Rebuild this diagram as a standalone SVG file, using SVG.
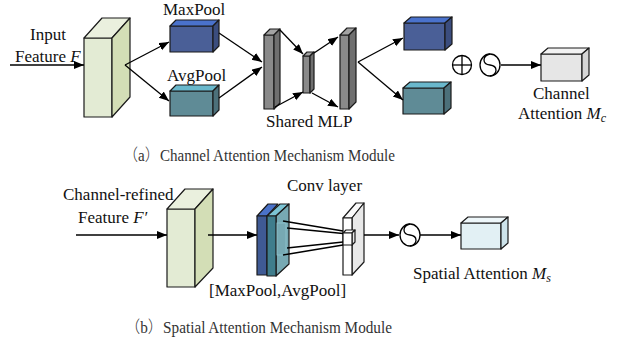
<svg xmlns="http://www.w3.org/2000/svg" width="623" height="340" viewBox="0 0 623 340">
<defs>
<marker id="ah" markerUnits="userSpaceOnUse" markerWidth="11" markerHeight="9" refX="10" refY="4" orient="auto">
<path d="M0,0 L10,4 L0,8 z" fill="#000"/>
</marker>
<style>
.t{font-family:"Liberation Serif","Times New Roman",serif;font-size:17px;fill:#111}
.cap{font-family:"Liberation Serif","Times New Roman",serif;font-size:16.5px;fill:#333}
.fw{font-family:"Noto Sans CJK SC",sans-serif;font-weight:300}
.i{font-style:italic}
.s{stroke:#1a1a1a;stroke-width:1.2;stroke-linejoin:round}
.c{stroke:#000;stroke-width:1.3;fill:none}
.a{stroke:#000;stroke-width:1.3;fill:none;marker-end:url(#ah)}
.gf{fill:#e3ebd4}.gt{fill:#eaf0de}.gs{fill:#d3deb6}
.bf{fill:#4a5f97}.bt{fill:#4a72cc}.bs{fill:#3b4d7e}
.tf{fill:#5f8b96}.tt{fill:#6ab8cc}.ts{fill:#4c707a}
.mf{fill:#8a8a8a}.mt{fill:#a3a3a3}.ms{fill:#6f6f6f}
.wf{fill:#e6e6e6}.wt{fill:#f2f2f2}.ws{fill:#d6d6d6}
.lf{fill:#e2f0f4}.lt{fill:#eef7fa}.ls{fill:#cde3ea}
</style>
</defs>
<rect width="623" height="340" fill="#fff"/>

<!-- (a) Channel attention -->
<g id="label-input">
<text class="t" x="30" y="40">Input</text>
<text class="t" x="15" y="62">Feature <tspan class="i">F</tspan></text>
</g>
<g id="node-input-feature">
<rect class="s gf" x="84" y="38" width="28" height="79"/>
<polygon class="s gt" points="84,38 102,18 130,18 112,38"/>
<polygon class="s gs" points="112,38 130,18 130,97 112,117"/>
</g>
<g id="node-maxpool">
<rect class="s bf" x="170" y="26" width="43" height="26"/>
<polygon class="s bt" points="170,26 176,20 219,20 213,26"/>
<polygon class="s bs" points="213,26 219,20 219,46 213,52"/>
<text class="t" x="163" y="15">MaxPool</text>
</g>
<g id="node-avgpool">
<rect class="s tf" x="170" y="91" width="43" height="25"/>
<polygon class="s tt" points="170,91 176,85 219,85 213,91"/>
<polygon class="s ts" points="213,91 219,85 219,110 213,116"/>
<text class="t" x="167" y="81">AvgPool</text>
</g>
<g id="node-mlp">
<rect class="s mf" x="264" y="35" width="10" height="74"/>
<polygon class="s mt" points="264,35 270,29 280,29 274,35"/>
<polygon class="s ms" points="274,35 280,29 280,103 274,109"/>
<rect class="s mf" x="303" y="56" width="7" height="37"/>
<polygon class="s mt" points="303,56 307,52 314,52 310,56"/>
<polygon class="s ms" points="310,56 314,52 314,89 310,93"/>
<rect class="s mf" x="340" y="35" width="9" height="74"/>
<polygon class="s mt" points="340,35 347,28 356,28 349,35"/>
<polygon class="s ms" points="349,35 356,28 356,102 349,109"/>
<text class="t" x="266" y="127">Shared MLP</text>
</g>
<g id="node-out-max">
<rect class="s bf" x="404" y="23" width="41" height="27"/>
<polygon class="s bt" points="404,23 411,17 452,17 445,23"/>
<polygon class="s bs" points="445,23 452,17 452,44 445,50"/>
</g>
<g id="node-out-avg">
<rect class="s tf" x="403" y="88" width="41" height="26"/>
<polygon class="s tt" points="403,88 410,82 451,82 444,88"/>
<polygon class="s ts" points="444,88 451,82 451,108 444,114"/>
</g>
<g id="node-add">
<circle class="c" cx="462" cy="65" r="9.5"/>
<line class="c" x1="452.5" y1="65" x2="471.5" y2="65"/>
<line class="c" x1="462" y1="55.5" x2="462" y2="74.5"/>
</g>
<g id="node-sigmoid-a">
<ellipse class="c" cx="490" cy="65" rx="10" ry="11"/>
<path class="c" d="M490,54 C482,56 482,64 490,65 C498,66 498,74 490,76"/>
</g>
<g id="node-channel-attention">
<rect class="s wf" x="541" y="54" width="41" height="27"/>
<polygon class="s wt" points="541,54 548,48 589,48 582,54"/>
<polygon class="s ws" points="582,54 589,48 589,75 582,81"/>
<text class="t" x="533" y="99">Channel</text>
<text class="t" x="518" y="119">Attention <tspan class="i">M</tspan><tspan class="i" font-size="12" dy="3">c</tspan></text>
</g>
<text class="cap" x="123" y="161" textLength="272" lengthAdjust="spacingAndGlyphs"><tspan class="fw">（</tspan>a<tspan class="fw">）</tspan>Channel Attention Mechanism Module</text>

<!-- (b) Spatial attention -->
<g id="label-refined">
<text class="t" x="63" y="200">Channel-refined</text>
<text class="t" x="78" y="223">Feature <tspan class="i">F′</tspan></text>
</g>
<g id="node-refined-feature">
<rect class="s gf" x="167" y="209" width="28" height="78"/>
<polygon class="s gt" points="167,209 185,189 213,189 195,209"/>
<polygon class="s gs" points="195,209 213,189 213,268 195,287"/>
</g>
<g id="node-pool-stack">
<polygon class="s" fill="#4a72c8" points="257,216 268,204 278,204 267,216"/>
<rect class="s" fill="#3f5a94" x="257" y="216" width="10" height="59"/>
<polygon class="s" fill="#7cc4d4" points="267,216 280,204 289,204 276,216"/>
<polygon class="s" fill="#5f9aa6" fill-opacity="0.85" points="276,216 289,204 289,264 276,276"/>
<rect class="s" fill="#3f7d8c" x="267" y="216" width="9" height="60"/>
<rect x="277" y="223" width="9" height="32" fill="none" stroke="#8fc6d0" stroke-width="0.8"/>
<text class="t" x="209" y="296">[MaxPool,AvgPool]</text>
</g>
<g id="node-conv">
<polygon class="s" fill="#fafafa" points="343,218 356,203 364,203 352,218"/>
<polygon class="s" fill="#e8e8e8" points="352,218 364,203 364,262 352,275"/>
<rect class="s" fill="#fff" x="343" y="218" width="9" height="57"/>
<polygon class="s" fill="#fff" points="343,233 346,230 355,230 352,233"/>
<polygon class="s" fill="#e8e8e8" points="352,233 355,230 355,242 352,245"/>
<rect class="s" fill="#fff" x="343" y="233" width="9" height="12"/>
<text class="t" x="287" y="191">Conv layer</text>
</g>
<g id="node-sigmoid-b">
<ellipse class="c" cx="410" cy="235" rx="10" ry="11"/>
<path class="c" d="M410,224 C402,226 402,234 410,235 C418,236 418,244 410,246"/>
</g>
<g id="node-spatial-attention">
<rect class="s lf" x="461" y="223" width="40" height="26"/>
<polygon class="s lt" points="461,223 468,217 508,217 501,223"/>
<polygon class="s ls" points="501,223 508,217 508,243 501,249"/>
<text class="t" x="413" y="279">Spatial Attention <tspan class="i">M</tspan><tspan class="i" font-size="12" dy="3">s</tspan></text>
</g>
<text class="cap" x="125" y="333" textLength="267" lengthAdjust="spacingAndGlyphs"><tspan class="fw">（</tspan>b<tspan class="fw">）</tspan>Spatial Attention Mechanism Module</text>

<g id="connectors">
<line class="a" x1="10" y1="65" x2="84" y2="65"/>
<line class="a" x1="125" y1="65" x2="169" y2="42"/>
<line class="a" x1="125" y1="65" x2="169" y2="101"/>
<line class="a" x1="219" y1="33" x2="262" y2="62"/>
<line class="a" x1="219" y1="98" x2="262" y2="67"/>
<line class="a" x1="280" y1="30" x2="303" y2="54"/>
<line class="a" x1="275" y1="107" x2="303" y2="92"/>
<line class="a" x1="314" y1="53" x2="338" y2="37"/>
<line class="a" x1="312" y1="93" x2="338" y2="107"/>
<line class="a" x1="358" y1="62" x2="403" y2="38"/>
<line class="a" x1="358" y1="62" x2="403" y2="100"/>
<line class="a" x1="501" y1="65" x2="541" y2="65"/>
<line class="a" x1="76" y1="235" x2="167" y2="235"/>
<line class="a" x1="208" y1="235" x2="257" y2="235"/>
<line class="c" x1="283" y1="221" x2="343" y2="231"/>
<line class="c" x1="287" y1="228" x2="343" y2="233.5"/>
<line class="c" x1="287" y1="248" x2="343" y2="242"/>
<line class="c" x1="283" y1="255" x2="343" y2="245"/>
<line class="a" x1="364" y1="235" x2="399" y2="235"/>
<line class="a" x1="420" y1="235" x2="461" y2="235"/>
</g>
</svg>
